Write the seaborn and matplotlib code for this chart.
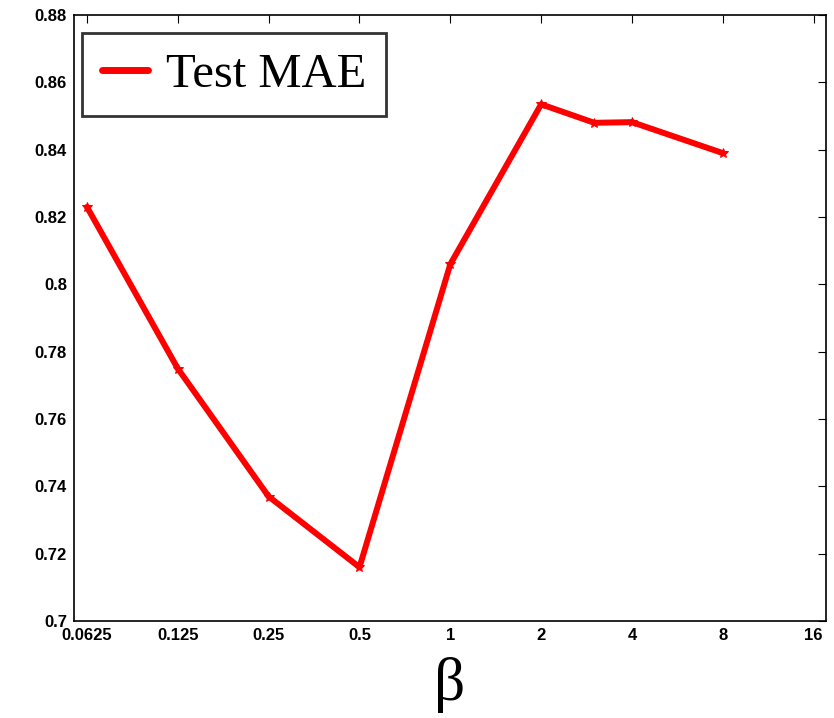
import numpy as np
import pandas as pd
import matplotlib
matplotlib.use('Agg')
import matplotlib.pyplot as plt
import seaborn as sns

beta = [0.0625, 0.125, 0.25, 0.5, 1, 2, 3, 4, 8]
mae = [0.823, 0.775, 0.737, 0.716, 0.806, 0.8535, 0.848, 0.8482, 0.839]
xticks = [0.0625, 0.125, 0.25, 0.5, 1, 2, 4, 8, 16]
xticklabels = ['0.0625', '0.125', '0.25', '0.5', '1', '2', '4', '8', '16']
yticks = [0.7, 0.72, 0.74, 0.76, 0.78, 0.8, 0.82, 0.84, 0.86, 0.88]

df = pd.DataFrame({'beta': beta, 'mae': mae})

sns.set_style('white')
plt.rcParams['font.family'] = ['Liberation Sans', 'DejaVu Sans']
plt.rcParams['text.color'] = 'black'

fig = plt.figure(figsize=(8.34, 7.18), dpi=100)
ax = fig.add_axes([0.0887, 0.135, 0.9013, 0.844])

sns.lineplot(data=df, x='beta', y='mae', ax=ax, color='red', linewidth=4.3,
             marker='*', markersize=7, markeredgecolor='red', label='Test MAE')

ax.set_xscale('log', base=2)
ax.set_xlim(2 ** -4.143, 2 ** 4.132)
ax.set_ylim(0.7, 0.88)
ax.set_xticks(xticks)
ax.set_xticklabels(xticklabels)
ax.minorticks_off()
ax.set_yticks(yticks)
ax.set_yticklabels(['%g' % v for v in yticks])
ax.tick_params(direction='in', length=6, width=0.8, top=True, right=True,
               labelsize=12, colors='black', pad=5)
for lab in ax.get_xticklabels() + ax.get_yticklabels():
    lab.set_fontweight('bold')
for s in ax.spines.values():
    s.set_color('black')
    s.set_linewidth(1.2)

ax.set_ylabel('')
ax.set_xlabel('β', fontsize=44, family='Liberation Serif', labelpad=10, color='black')

leg = ax.legend(loc='upper left', bbox_to_anchor=(0.011, 0.97), fancybox=False,
                prop={'family': 'Liberation Serif', 'size': 35}, handlelength=0.95,
                borderpad=0.4, handletextpad=0.37, borderaxespad=0)
leg.get_frame().set_edgecolor('black')
leg.get_frame().set_linewidth(2)
for t in leg.get_texts():
    t.set_color('black')
for h in leg.get_lines():
    h.set_marker('')
    h.set_linewidth(5)

fig.savefig('out.png', dpi=100)
